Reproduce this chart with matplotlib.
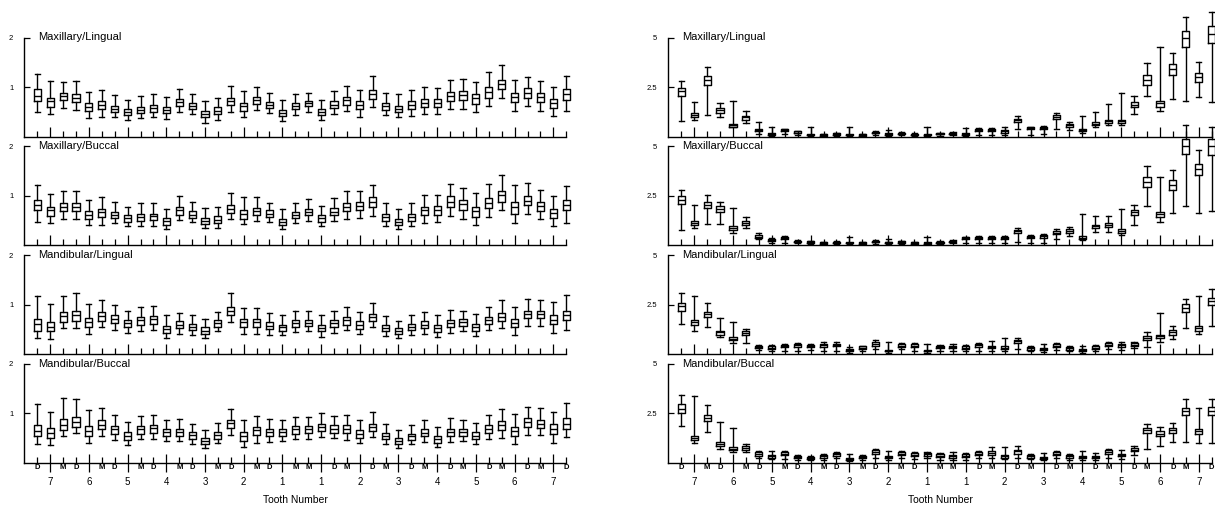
import matplotlib
matplotlib.use('Agg')
import matplotlib.pyplot as plt

plt.rcParams['font.family'] = ['Liberation Sans', 'DejaVu Sans']

# 14 teeth, three boxes each (side / centre / side) -> 42 boxes per panel
teeth = ['7', '6', '5', '4', '3', '2', '1', '1', '2', '3', '4', '5', '6', '7']
surfaces = ['D', 'M'] * 7 + ['M', 'D'] * 7
panel_names = ['Maxillary/Lingual', 'Maxillary/Buccal', 'Mandibular/Lingual', 'Mandibular/Buccal']

# ---- left column (scale 0..2) ----
ml_a_hi = [1.26, 1.12, 1.10, 1.12, 0.90, 0.93, 0.83, 0.73, 0.81, 0.85, 0.79, 0.95, 0.86, 0.72, 0.77, 1.03, 0.92, 1.01, 0.88, 0.73, 0.86,
           0.88, 0.73, 0.92, 1.02, 0.93, 1.23, 0.88, 0.86, 0.94, 1.01, 0.97, 1.14, 1.16, 1.10, 1.31, 1.45, 1.14, 1.21, 1.12, 1.01, 1.23]
ml_a_q3 = [0.95, 0.78, 0.88, 0.85, 0.68, 0.71, 0.62, 0.55, 0.59, 0.63, 0.59, 0.76, 0.68, 0.52, 0.59, 0.78, 0.68, 0.79, 0.69, 0.54, 0.68,
           0.72, 0.55, 0.71, 0.80, 0.71, 0.94, 0.68, 0.62, 0.71, 0.76, 0.76, 0.90, 0.92, 0.85, 0.99, 1.14, 0.88, 0.97, 0.88, 0.76, 0.95]
ml_a_med = [0.81, 0.71, 0.81, 0.78, 0.59, 0.64, 0.56, 0.50, 0.54, 0.57, 0.54, 0.70, 0.61, 0.46, 0.52, 0.72, 0.61, 0.73, 0.63, 0.48, 0.62,
            0.68, 0.50, 0.64, 0.73, 0.64, 0.86, 0.61, 0.56, 0.64, 0.68, 0.68, 0.81, 0.83, 0.77, 0.90, 1.06, 0.79, 0.88, 0.79, 0.68, 0.85]
ml_a_q1 = [0.71, 0.59, 0.73, 0.69, 0.52, 0.55, 0.50, 0.43, 0.47, 0.50, 0.47, 0.62, 0.55, 0.39, 0.46, 0.64, 0.52, 0.66, 0.57, 0.41, 0.55,
           0.61, 0.43, 0.57, 0.64, 0.55, 0.76, 0.54, 0.50, 0.55, 0.59, 0.59, 0.71, 0.73, 0.66, 0.78, 0.95, 0.69, 0.78, 0.69, 0.57, 0.73]
ml_a_lo = [0.50, 0.46, 0.57, 0.54, 0.37, 0.40, 0.39, 0.33, 0.37, 0.40, 0.36, 0.50, 0.46, 0.28, 0.34, 0.49, 0.39, 0.54, 0.47, 0.31, 0.43,
           0.50, 0.33, 0.46, 0.52, 0.39, 0.59, 0.43, 0.39, 0.41, 0.46, 0.46, 0.55, 0.56, 0.49, 0.62, 0.77, 0.52, 0.62, 0.52, 0.41, 0.52]

mb_a_hi = [1.21, 1.03, 1.09, 1.09, 0.92, 0.97, 0.88, 0.78, 0.85, 0.85, 0.74, 1.00, 0.88, 0.76, 0.77, 1.06, 0.97, 0.97, 0.86, 0.73, 0.86,
           0.93, 0.79, 0.95, 1.09, 1.10, 1.21, 0.86, 0.74, 0.86, 1.01, 1.01, 1.24, 1.16, 1.06, 1.24, 1.42, 1.21, 1.26, 1.11, 0.99, 1.19]
mb_a_q3 = [0.92, 0.78, 0.85, 0.85, 0.69, 0.74, 0.68, 0.61, 0.64, 0.64, 0.55, 0.78, 0.69, 0.56, 0.59, 0.81, 0.71, 0.76, 0.71, 0.54, 0.68,
           0.73, 0.61, 0.75, 0.85, 0.87, 0.97, 0.64, 0.54, 0.64, 0.78, 0.79, 0.99, 0.92, 0.78, 0.95, 1.10, 0.88, 0.99, 0.88, 0.74, 0.92]
mb_a_med = [0.81, 0.71, 0.78, 0.78, 0.62, 0.68, 0.62, 0.55, 0.57, 0.59, 0.49, 0.71, 0.62, 0.50, 0.52, 0.74, 0.63, 0.69, 0.64, 0.48, 0.62,
            0.68, 0.55, 0.68, 0.78, 0.79, 0.88, 0.57, 0.47, 0.57, 0.71, 0.72, 0.88, 0.83, 0.69, 0.86, 1.02, 0.78, 0.90, 0.79, 0.66, 0.81]
mb_a_q1 = [0.71, 0.59, 0.69, 0.69, 0.54, 0.57, 0.55, 0.48, 0.50, 0.52, 0.42, 0.62, 0.55, 0.43, 0.46, 0.66, 0.54, 0.62, 0.57, 0.41, 0.55,
           0.61, 0.48, 0.61, 0.69, 0.71, 0.78, 0.50, 0.41, 0.50, 0.61, 0.62, 0.78, 0.72, 0.57, 0.76, 0.88, 0.64, 0.81, 0.69, 0.56, 0.71]
mb_a_lo = [0.47, 0.46, 0.54, 0.54, 0.42, 0.42, 0.45, 0.39, 0.40, 0.40, 0.33, 0.52, 0.47, 0.35, 0.35, 0.54, 0.43, 0.49, 0.47, 0.33, 0.46,
           0.50, 0.39, 0.49, 0.54, 0.56, 0.59, 0.40, 0.32, 0.39, 0.46, 0.48, 0.59, 0.54, 0.42, 0.57, 0.71, 0.46, 0.63, 0.54, 0.39, 0.45]

ll_a_hi = [1.17, 1.02, 1.17, 1.23, 1.01, 1.09, 1.00, 0.88, 0.95, 0.97, 0.78, 0.83, 0.78, 0.71, 0.85, 1.23, 0.94, 0.93, 0.83, 0.78, 0.88,
           0.88, 0.78, 0.88, 0.95, 0.86, 1.03, 0.76, 0.66, 0.78, 0.86, 0.78, 0.90, 0.88, 0.81, 0.95, 1.09, 0.95, 1.11, 1.09, 1.06, 1.19]
ll_a_q3 = [0.71, 0.64, 0.86, 0.88, 0.73, 0.85, 0.78, 0.69, 0.74, 0.76, 0.57, 0.66, 0.61, 0.54, 0.68, 0.95, 0.71, 0.71, 0.64, 0.59, 0.69,
           0.69, 0.59, 0.69, 0.74, 0.66, 0.81, 0.59, 0.52, 0.61, 0.66, 0.59, 0.69, 0.71, 0.61, 0.74, 0.83, 0.71, 0.88, 0.88, 0.78, 0.87]
ll_a_med = [0.61, 0.54, 0.76, 0.78, 0.64, 0.76, 0.71, 0.62, 0.68, 0.70, 0.50, 0.59, 0.55, 0.47, 0.62, 0.88, 0.64, 0.64, 0.57, 0.54, 0.62,
            0.63, 0.52, 0.62, 0.68, 0.59, 0.74, 0.52, 0.47, 0.55, 0.59, 0.52, 0.62, 0.64, 0.55, 0.68, 0.74, 0.62, 0.81, 0.81, 0.69, 0.78]
ll_a_q1 = [0.47, 0.46, 0.64, 0.66, 0.55, 0.66, 0.62, 0.55, 0.59, 0.61, 0.43, 0.52, 0.48, 0.41, 0.55, 0.78, 0.54, 0.54, 0.50, 0.47, 0.55,
           0.56, 0.46, 0.54, 0.59, 0.50, 0.66, 0.46, 0.40, 0.48, 0.52, 0.45, 0.55, 0.57, 0.47, 0.61, 0.66, 0.54, 0.73, 0.73, 0.61, 0.69]
ll_a_lo = [0.33, 0.31, 0.52, 0.52, 0.41, 0.54, 0.48, 0.43, 0.47, 0.48, 0.33, 0.41, 0.39, 0.32, 0.46, 0.64, 0.41, 0.41, 0.39, 0.39, 0.45,
           0.47, 0.34, 0.43, 0.48, 0.40, 0.54, 0.37, 0.33, 0.39, 0.41, 0.34, 0.43, 0.47, 0.37, 0.48, 0.52, 0.39, 0.56, 0.56, 0.43, 0.48]

lb_a_hi = [1.19, 1.02, 1.31, 1.30, 1.06, 1.11, 0.97, 0.83, 0.95, 0.97, 0.86, 0.88, 0.79, 0.66, 0.80, 1.09, 0.87, 0.94, 0.88, 0.87, 0.93,
           0.93, 1.01, 0.95, 0.97, 0.86, 1.02, 0.78, 0.66, 0.76, 0.86, 0.73, 0.90, 0.86, 0.81, 0.97, 1.09, 0.99, 1.12, 1.10, 1.03, 1.21]
lb_a_q3 = [0.76, 0.71, 0.88, 0.93, 0.74, 0.86, 0.74, 0.62, 0.74, 0.77, 0.68, 0.69, 0.62, 0.50, 0.62, 0.87, 0.62, 0.73, 0.69, 0.68, 0.74,
           0.74, 0.79, 0.76, 0.76, 0.66, 0.79, 0.61, 0.50, 0.59, 0.68, 0.55, 0.69, 0.68, 0.62, 0.76, 0.85, 0.73, 0.90, 0.87, 0.78, 0.90]
lb_a_med = [0.64, 0.61, 0.77, 0.83, 0.64, 0.77, 0.68, 0.55, 0.68, 0.70, 0.62, 0.62, 0.56, 0.45, 0.56, 0.80, 0.54, 0.66, 0.62, 0.62, 0.68,
            0.68, 0.73, 0.69, 0.69, 0.59, 0.73, 0.55, 0.45, 0.54, 0.61, 0.49, 0.62, 0.62, 0.55, 0.69, 0.77, 0.64, 0.83, 0.79, 0.69, 0.79]
lb_a_q1 = [0.54, 0.50, 0.66, 0.73, 0.54, 0.68, 0.59, 0.47, 0.59, 0.61, 0.55, 0.55, 0.49, 0.39, 0.49, 0.71, 0.45, 0.57, 0.54, 0.54, 0.59,
           0.61, 0.64, 0.61, 0.61, 0.50, 0.64, 0.48, 0.39, 0.47, 0.54, 0.41, 0.55, 0.54, 0.48, 0.61, 0.66, 0.54, 0.73, 0.70, 0.59, 0.69]
lb_a_lo = [0.39, 0.37, 0.54, 0.61, 0.41, 0.55, 0.47, 0.37, 0.48, 0.49, 0.45, 0.45, 0.39, 0.30, 0.40, 0.57, 0.33, 0.41, 0.43, 0.45, 0.49,
           0.49, 0.52, 0.50, 0.47, 0.40, 0.52, 0.39, 0.30, 0.39, 0.43, 0.32, 0.43, 0.45, 0.38, 0.49, 0.50, 0.39, 0.57, 0.56, 0.41, 0.52]

# ---- right column (scale 0..5) ----
ml_b_hi = [2.82, 1.72, 3.50, 1.71, 1.81, 1.30, 0.75, 0.48, 0.39, 0.27, 0.48, 0.14, 0.19, 0.48, 0.14, 0.26, 0.34, 0.22, 0.17, 0.48, 0.20,
           0.22, 0.44, 0.43, 0.41, 0.48, 1.02, 0.48, 0.55, 1.21, 0.73, 1.02, 1.25, 1.62, 2.18, 2.06, 3.69, 4.54, 4.23, 6.02, 3.77, 6.28]
ml_b_q3 = [2.47, 1.19, 3.04, 1.45, 0.65, 1.02, 0.39, 0.17, 0.37, 0.26, 0.14, 0.12, 0.17, 0.14, 0.12, 0.24, 0.17, 0.20, 0.15, 0.15, 0.19,
           0.20, 0.17, 0.39, 0.39, 0.31, 0.90, 0.46, 0.48, 1.08, 0.63, 0.36, 0.72, 0.85, 0.85, 1.72, 3.09, 1.81, 3.67, 5.31, 3.21, 5.56]
ml_b_med = [2.30, 1.09, 2.83, 1.33, 0.56, 0.96, 0.31, 0.14, 0.32, 0.20, 0.10, 0.09, 0.14, 0.10, 0.09, 0.20, 0.14, 0.17, 0.10, 0.10, 0.15,
            0.17, 0.14, 0.34, 0.32, 0.26, 0.82, 0.41, 0.43, 0.99, 0.56, 0.31, 0.65, 0.78, 0.78, 1.60, 2.87, 1.67, 3.41, 4.95, 2.99, 5.17]
ml_b_q1 = [2.06, 0.99, 2.59, 1.19, 0.48, 0.85, 0.26, 0.10, 0.27, 0.17, 0.07, 0.05, 0.10, 0.07, 0.05, 0.17, 0.10, 0.14, 0.07, 0.07, 0.12,
           0.14, 0.10, 0.29, 0.27, 0.20, 0.75, 0.36, 0.38, 0.89, 0.48, 0.27, 0.56, 0.68, 0.68, 1.47, 2.61, 1.50, 3.12, 4.52, 2.73, 4.74]
ml_b_lo = [0.77, 0.82, 1.08, 0.99, 0.48, 0.68, 0.14, 0.03, 0.14, 0.09, 0.03, 0.02, 0.05, 0.03, 0.02, 0.10, 0.03, 0.09, 0.03, 0.03, 0.05,
           0.07, 0.03, 0.10, 0.10, 0.10, 0.39, 0.10, 0.14, 0.39, 0.34, 0.20, 0.48, 0.56, 0.56, 1.13, 2.05, 1.30, 1.89, 1.81, 1.98, 1.76]

mb_b_hi = [2.80, 2.05, 2.54, 2.20, 1.86, 1.44, 0.64, 0.36, 0.46, 0.25, 0.24, 0.17, 0.20, 0.42, 0.17, 0.27, 0.34, 0.22, 0.17, 0.42, 0.20,
           0.27, 0.44, 0.46, 0.47, 0.49, 0.85, 0.51, 0.56, 0.81, 0.90, 1.58, 1.46, 1.49, 1.83, 2.05, 3.98, 3.44, 3.78, 6.06, 4.80, 6.00]
mb_b_q3 = [2.47, 1.24, 2.20, 1.97, 0.95, 1.24, 0.53, 0.34, 0.41, 0.24, 0.22, 0.15, 0.19, 0.17, 0.15, 0.24, 0.19, 0.20, 0.15, 0.15, 0.19,
           0.24, 0.41, 0.42, 0.44, 0.44, 0.78, 0.49, 0.53, 0.71, 0.80, 0.47, 1.05, 1.15, 0.81, 1.80, 3.44, 1.66, 3.32, 5.39, 4.12, 5.36]
mb_b_med = [2.31, 1.15, 2.05, 1.83, 0.88, 1.14, 0.44, 0.29, 0.36, 0.19, 0.17, 0.12, 0.15, 0.14, 0.12, 0.19, 0.15, 0.15, 0.12, 0.12, 0.15,
            0.19, 0.36, 0.36, 0.37, 0.37, 0.71, 0.42, 0.46, 0.64, 0.71, 0.39, 0.95, 1.03, 0.73, 1.66, 3.19, 1.56, 3.07, 5.02, 3.86, 5.02]
mb_b_q1 = [2.08, 1.03, 1.90, 1.69, 0.78, 1.03, 0.37, 0.24, 0.31, 0.15, 0.14, 0.08, 0.12, 0.10, 0.08, 0.15, 0.12, 0.12, 0.08, 0.08, 0.12,
           0.15, 0.31, 0.31, 0.32, 0.32, 0.64, 0.37, 0.39, 0.56, 0.61, 0.34, 0.85, 0.93, 0.64, 1.53, 2.93, 1.44, 2.81, 4.59, 3.53, 4.58]
mb_b_lo = [0.76, 0.85, 1.07, 1.07, 0.64, 0.85, 0.31, 0.14, 0.14, 0.10, 0.07, 0.05, 0.07, 0.05, 0.05, 0.08, 0.05, 0.07, 0.05, 0.05, 0.07,
           0.10, 0.10, 0.10, 0.14, 0.14, 0.19, 0.14, 0.14, 0.34, 0.47, 0.27, 0.68, 0.68, 0.51, 1.02, 1.97, 1.19, 1.61, 1.97, 1.63, 1.75]

ll_b_hi = [3.08, 2.92, 2.58, 1.83, 1.64, 1.27, 0.46, 0.46, 0.51, 0.56, 0.51, 0.59, 0.59, 0.34, 0.42, 0.71, 0.59, 0.56, 0.56, 0.51, 0.46,
           0.51, 0.46, 0.56, 0.68, 0.80, 0.80, 0.39, 0.51, 0.54, 0.39, 0.42, 0.46, 0.59, 0.59, 0.63, 1.14, 2.08, 1.41, 2.80, 2.93, 3.27]
ll_b_q3 = [2.59, 1.73, 2.15, 1.19, 0.85, 1.15, 0.42, 0.39, 0.47, 0.51, 0.47, 0.53, 0.53, 0.25, 0.39, 0.59, 0.22, 0.51, 0.51, 0.20, 0.42,
           0.42, 0.39, 0.51, 0.42, 0.39, 0.73, 0.36, 0.31, 0.49, 0.36, 0.25, 0.39, 0.54, 0.51, 0.56, 0.93, 0.98, 1.22, 2.51, 1.41, 2.85]
ll_b_med = [2.42, 1.61, 2.02, 1.10, 0.76, 1.07, 0.36, 0.32, 0.41, 0.44, 0.41, 0.46, 0.46, 0.20, 0.32, 0.49, 0.17, 0.42, 0.42, 0.17, 0.36,
            0.36, 0.32, 0.44, 0.36, 0.32, 0.64, 0.29, 0.25, 0.42, 0.29, 0.20, 0.32, 0.47, 0.44, 0.47, 0.83, 0.90, 1.10, 2.32, 1.31, 2.68]
ll_b_q1 = [2.20, 1.47, 1.86, 0.98, 0.69, 0.97, 0.29, 0.25, 0.34, 0.36, 0.34, 0.37, 0.39, 0.15, 0.25, 0.39, 0.14, 0.36, 0.36, 0.14, 0.29,
           0.29, 0.25, 0.36, 0.29, 0.25, 0.54, 0.22, 0.20, 0.36, 0.22, 0.17, 0.25, 0.41, 0.37, 0.39, 0.71, 0.80, 0.97, 2.12, 1.19, 2.46]
ll_b_lo = [1.53, 1.19, 1.36, 0.85, 0.56, 0.54, 0.20, 0.17, 0.17, 0.17, 0.20, 0.17, 0.17, 0.08, 0.17, 0.25, 0.08, 0.25, 0.17, 0.08, 0.17,
           0.17, 0.17, 0.17, 0.17, 0.17, 0.25, 0.15, 0.12, 0.22, 0.15, 0.08, 0.17, 0.25, 0.22, 0.29, 0.37, 0.63, 0.76, 1.32, 1.02, 1.44]

lb_b_hi = [3.42, 3.37, 2.90, 2.07, 1.76, 0.97, 0.58, 0.58, 0.58, 0.41, 0.37, 0.44, 0.54, 0.44, 0.41, 0.69, 0.58, 0.58, 0.54, 0.54, 0.49,
           0.53, 0.49, 0.58, 0.78, 0.78, 0.83, 0.44, 0.49, 0.61, 0.44, 0.58, 0.49, 0.71, 0.66, 0.83, 1.98, 1.81, 2.02, 3.24, 2.78, 3.25]
lb_b_q3 = [2.95, 1.37, 2.44, 1.05, 0.78, 0.85, 0.54, 0.41, 0.54, 0.37, 0.32, 0.41, 0.51, 0.27, 0.37, 0.63, 0.36, 0.54, 0.49, 0.51, 0.44,
           0.41, 0.44, 0.54, 0.58, 0.41, 0.66, 0.41, 0.32, 0.54, 0.41, 0.37, 0.37, 0.64, 0.47, 0.75, 1.76, 1.59, 1.76, 2.78, 1.71, 2.81]
lb_b_med = [2.73, 1.25, 2.27, 0.95, 0.71, 0.76, 0.46, 0.34, 0.47, 0.31, 0.25, 0.34, 0.44, 0.22, 0.31, 0.54, 0.29, 0.47, 0.42, 0.44, 0.37,
            0.34, 0.37, 0.47, 0.49, 0.34, 0.58, 0.34, 0.27, 0.47, 0.34, 0.31, 0.31, 0.56, 0.41, 0.66, 1.64, 1.47, 1.64, 2.61, 1.59, 2.64]
lb_b_q1 = [2.51, 1.15, 2.10, 0.83, 0.63, 0.66, 0.37, 0.27, 0.41, 0.24, 0.20, 0.27, 0.37, 0.17, 0.24, 0.44, 0.24, 0.39, 0.34, 0.37, 0.31,
           0.27, 0.31, 0.41, 0.41, 0.27, 0.47, 0.27, 0.22, 0.41, 0.27, 0.24, 0.24, 0.47, 0.34, 0.58, 1.51, 1.36, 1.51, 2.41, 1.46, 2.44]
lb_b_lo = [1.85, 0.98, 1.56, 0.71, 0.54, 0.54, 0.24, 0.19, 0.20, 0.15, 0.14, 0.15, 0.24, 0.10, 0.15, 0.24, 0.15, 0.24, 0.20, 0.24, 0.15,
           0.15, 0.15, 0.24, 0.24, 0.19, 0.24, 0.19, 0.14, 0.24, 0.15, 0.15, 0.15, 0.27, 0.19, 0.41, 0.71, 0.83, 1.08, 1.08, 0.98, 1.00]

left_col = [
    (ml_a_lo, ml_a_q1, ml_a_med, ml_a_q3, ml_a_hi),
    (mb_a_lo, mb_a_q1, mb_a_med, mb_a_q3, mb_a_hi),
    (ll_a_lo, ll_a_q1, ll_a_med, ll_a_q3, ll_a_hi),
    (lb_a_lo, lb_a_q1, lb_a_med, lb_a_q3, lb_a_hi),
]
right_col = [
    (ml_b_lo, ml_b_q1, ml_b_med, ml_b_q3, ml_b_hi),
    (mb_b_lo, mb_b_q1, mb_b_med, mb_b_q3, mb_b_hi),
    (ll_b_lo, ll_b_q1, ll_b_med, ll_b_q3, ll_b_hi),
    (lb_b_lo, lb_b_q1, lb_b_med, lb_b_q3, lb_b_hi),
]

W, H = 1215.0, 508.0
fig = plt.figure(figsize=(W / 100, H / 100), dpi=100)

positions = list(range(1, 43))
major = [2 + 3 * i for i in range(14)]
minor = [p for p in positions if p not in major]

# column setup: x0 px, width px, ymax, yticks, yticklabels, data
columns = [
    (24.4, 541.8, 2.0, [1, 2], ['1', '2'], left_col),
    (668.3, 543.4, 5.0, [2.5, 5], ['2.5', '5'], right_col),
]

line = dict(color='black', linewidth=1.0)

for x0, w, ymax, yt, ytl, col in columns:
    for k in range(4):
        top = 37.5 + 108.8 * k
        h = 99.0
        ax = fig.add_axes([x0 / W, 1 - (top + h) / H, w / W, h / H])
        lo, q1, med, q3, hi = col[k]
        stats = []
        for i in range(42):
            stats.append(dict(whislo=lo[i], q1=q1[i], med=med[i], q3=q3[i], whishi=hi[i], fliers=[]))
        art = ax.bxp(stats, positions=positions, widths=0.55, capwidths=0.4, showfliers=False,
                     manage_ticks=False, boxprops=line, whiskerprops=line, capprops=line,
                     medianprops=line)
        for key in art:
            for a in art[key]:
                a.set_clip_on(False)

        ax.set_xlim(0, 42)
        ax.set_ylim(0, ymax)
        ax.spines['top'].set_visible(False)
        ax.spines['right'].set_visible(False)
        ax.spines['left'].set_linewidth(1.0)
        ax.spines['bottom'].set_linewidth(1.0)

        ax.set_yticks(yt)
        ax.set_yticklabels(ytl)
        ax.tick_params(axis='y', direction='in', length=4, width=0.9, pad=8, labelsize=5.5)

        ax.set_xticks(major)
        ax.set_xticks(minor, minor=True)
        ax.tick_params(axis='x', which='minor', direction='in', length=4, width=0.9)
        if k == 3:
            ax.set_xticklabels(teeth)
            ax.set_xticklabels(surfaces, minor=True, fontsize=5.5, fontweight='bold')
            ax.tick_params(axis='x', which='major', direction='inout', length=13, width=0.9,
                           pad=4, labelsize=7)
            ax.tick_params(axis='x', which='minor', pad=0.5)
        else:
            ax.set_xticklabels([])
            ax.tick_params(axis='x', which='major', direction='in', length=7, width=0.9)

        ax.text(1.1, ymax, panel_names[k], fontsize=8, va='center', ha='left')

    fig.text((x0 + w / 2) / W, 1 - 500 / H, 'Tooth Number', fontsize=7.5, ha='center', va='center')

fig.savefig('out.png', dpi=100)
